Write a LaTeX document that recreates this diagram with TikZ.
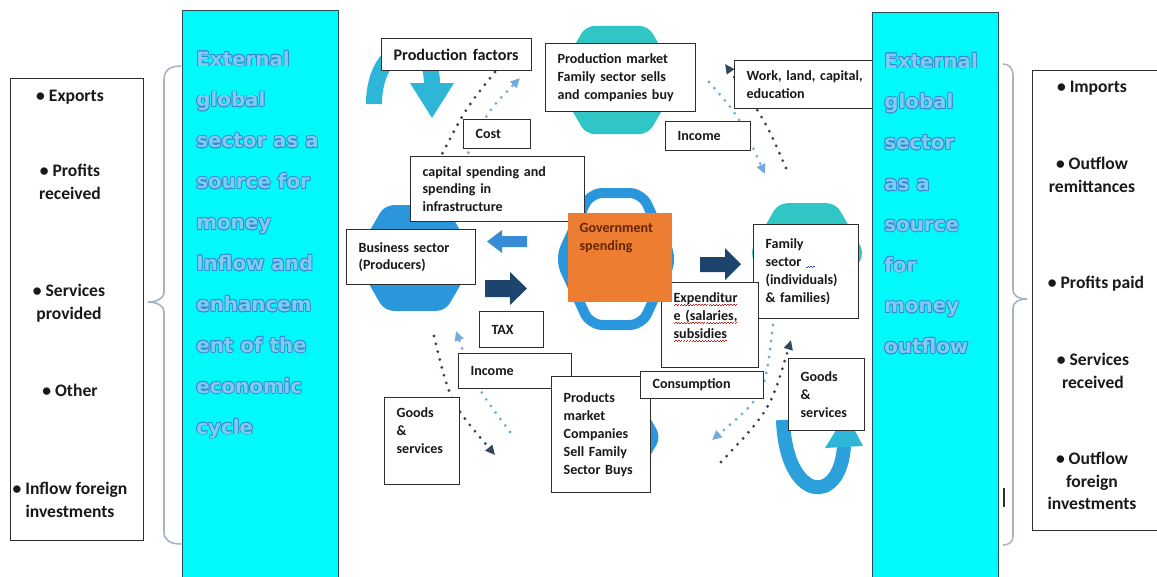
\documentclass[tikz,border=0pt]{standalone}
\usepackage{fontspec}
\setmainfont{Carlito}
\newfontfamily\bigfont{DejaVu Sans}
\usepackage{xcolor}
\usepackage{tikz}
\usetikzlibrary{shapes.geometric,arrows.meta}

\definecolor{panelcyan}{RGB}{0,250,250}
\definecolor{paneledge}{RGB}{35,80,95}
\definecolor{bigfill}{RGB}{125,205,242}
\definecolor{bigedge}{RGB}{55,135,210}
\definecolor{boxline}{RGB}{45,45,45}
\definecolor{boxtext}{RGB}{25,25,25}
\definecolor{hexblue}{RGB}{42,150,220}
\definecolor{hexteal}{RGB}{48,198,198}
\definecolor{govorange}{RGB}{237,125,49}
\definecolor{govtext}{RGB}{100,38,10}
\definecolor{navy}{RGB}{28,68,108}
\definecolor{skyarrow}{RGB}{55,140,215}
\definecolor{ribbon}{RGB}{45,182,215}
\definecolor{dotdark}{RGB}{50,72,92}
\definecolor{dotlight}{RGB}{115,172,220}
\definecolor{bracegray}{RGB}{165,180,195}
\definecolor{spellred}{RGB}{200,30,30}
\definecolor{gramblue}{RGB}{50,70,200}

\newcommand\boxfont{\fontsize{8}{10.2}\selectfont\bfseries\hyphenpenalty=10000\relax}
\newcommand\itemfont{\fontsize{10}{13}\selectfont\bfseries}
\newcommand\panelfont{\bigfont\bfseries\fontsize{11.3}{13}\selectfont}
\newcommand\wavebox[2]{\hbox to #1{\color{#2}\xleaders\hbox to 1.6pt{\vrule width 0.8pt height 0.45pt\raise0.45pt\hbox{\vrule width 0.8pt height 0.45pt}}\hfill}}
\newcommand\spellmark[1]{\leavevmode\setbox0=\hbox{#1}\rlap{\lower2pt\wavebox{\wd0}{spellred}}\box0}
\newcommand\grammark{\lower0.6pt\wavebox{4.8pt}{gramblue}}
\newcommand\edgecopy[3]{\rlap{\kern#1\raise#2\hbox{\textcolor{bigedge}{#3}}}}
\newcommand\outlined[1]{\leavevmode\edgecopy{0.5pt}{0pt}{#1}\edgecopy{-0.5pt}{0pt}{#1}%
  \edgecopy{0pt}{0.5pt}{#1}\edgecopy{0pt}{-0.5pt}{#1}\edgecopy{0.35pt}{0.35pt}{#1}%
  \edgecopy{-0.35pt}{0.35pt}{#1}\edgecopy{0.35pt}{-0.35pt}{#1}\edgecopy{-0.35pt}{-0.35pt}{#1}#1}

\begin{document}
\begin{tikzpicture}[x=0.02cm, y=-0.02cm,
  box/.style 2 args={draw=boxline, fill=white, line width=0.7pt, anchor=north west,
    inner xsep=0.24cm, inner ysep=0.08cm, text width={#1cm-0.48cm},
    minimum height=#2cm, align=left, text=boxtext, font=\boxfont},
  topbox/.style 2 args={box={#1}{0}, text height=9pt, text depth=#2},
  hexa/.style={regular polygon, regular polygon sides=6, minimum size=#1,
    inner sep=0pt, rounded corners=5pt},
  panel/.style={draw=paneledge, fill=panelcyan, line width=0.6pt, anchor=north west,
    minimum width=#1, minimum height=11.5cm, inner sep=0pt},
  paneltxt/.style={anchor=base west, inner sep=0pt, text=bigfill, font=\panelfont},
  listbox/.style 2 args={draw=boxline, fill=white, line width=0.7pt, anchor=north west,
    minimum width=#1, minimum height=#2, inner sep=0pt},
  item/.style={align=center, font=\itemfont, text=boxtext, inner sep=0pt},
  dotd/.style={dotdark, line width=1.8pt, line cap=round, dash pattern=on 0pt off 4.6pt},
  dotl/.style={dotlight, line width=1.8pt, line cap=round, dash pattern=on 0pt off 4.6pt},
  tipd/.style={-{Triangle[length=5.5pt, width=5pt]}},
  brace/.style={draw=bracegray, line width=0.9pt}
]
  \useasboundingbox (0,0) rectangle (1157,576);

  \node[hexa=2.5cm, fill=hexteal] (hexmkt) at (617,80) {};
  \node[hexa=2.44cm, fill=hexblue] (hexbus) at (415,258) {};
  \node[hexa=2.3cm, fill=hexteal] (hexfam) at (807,253) {};
  \node[hexa=2.2cm, fill=hexblue] (hexprod) at (606,437) {};
  \draw[hexblue, line width=0.2cm, rounded corners=0.25cm]
    (590,193) -- (642,193) -- (672,259) -- (642,325) -- (590,325) -- (560,259) -- cycle;

  \fill[skyarrow] (527,236) -- (502,236) -- (502,230) -- (487,241.5) -- (502,253) -- (502,247) -- (527,247) -- cycle;
  \fill[navy] (485,280) -- (510,280) -- (510,272) -- (527,288.5) -- (510,305) -- (510,297) -- (485,297) -- cycle;
  \fill[navy] (700,257) -- (725,257) -- (725,248) -- (741,264) -- (725,280) -- (725,272) -- (700,272) -- cycle;

  \draw[ribbon, line width=0.32cm] (374,104) .. controls (374,40) and (432,30) .. (432,84);
  \fill[ribbon] (410,83) -- (454,83) -- (432,118) -- cycle;
  \draw[hexblue!70!ribbon, line width=0.28cm] (783,420) .. controls (786,502) and (840,507) .. (844,446);
  \fill[ribbon] (825,448) -- (863,446) -- (846,414) -- cycle;

  \coordinate (fdA) at (495,72);  \coordinate (fdB) at (440,158);
  \coordinate (flA) at (465,160); \coordinate (flB) at (520,78);
  \coordinate (wdA) at (786,168); \coordinate (wdB) at (725,64);
  \coordinate (wlA) at (709,82);  \coordinate (wlB) at (765,174);
  \coordinate (gdA) at (434,336); \coordinate (gdB) at (495,455);
  \coordinate (glA) at (510,432); \coordinate (glB) at (456,331);
  \coordinate (rdA) at (721,462); \coordinate (rdB) at (791,340);
  \coordinate (rlA) at (773,325); \coordinate (rlB) at (712,440);
  \draw[dotd] (fdA) .. controls (466,108) .. (fdB);
  \draw[dotl, tipd] (flA) .. controls (487,112) .. (flB);
  \draw[dotd, tipd] (wdA) .. controls (765,120) .. (wdB);
  \draw[dotl, tipd] (wlA) .. controls (738,115) .. (wlB);
  \draw[dotd, tipd] (gdA) .. controls (450,402) .. (gdB);
  \draw[dotl, tipd] (glA) .. controls (475,385) .. (glB);
  \draw[dotd, tipd] (rdA) .. controls (770,410) .. (rdB);
  \draw[dotl, tipd] (rlA) .. controls (765,395) .. (rlB);

  \node[box={3.00}{0.64}, font={\fontsize{9.2}{11}\selectfont\bfseries}] (pf) at (381,38) {Production factors};
  \node[box={3.00}{1.36}] (pm) at (545,43) {Production market\\ Family sector sells\\ and companies buy};
  \node[box={2.82}{0.96}] (work) at (734,60) {Work, land, capital,\\ education};
  \node[box={1.34}{0.58}] (cost) at (463,119) {Cost};
  \node[box={1.70}{0.58}] (inctop) at (665,121) {Income};
  \node[box={3.48}{1.30}] (capsp) at (410,156) {capital spending and\\ spending in\\ infrastructure};
  \node[box={2.58}{1.10}] (bus) at (346,229) {Business sector\\ (Producers)};
  \node[box={2.10}{1.88}] (fam) at (753,224) {Family\\ sector\ \grammark\\ (individuals)\\ \& families)};
  \node[topbox={1.94}{34.7pt}] (expd) at (661,282) {\spellmark{Expenditur}\\ \spellmark{e (salaries,}\\ \spellmark{subsidies}};
  \node[topbox={2.08}{37.5pt}, draw=none, fill=govorange, text=govtext] (gov) at (567,212) {Government\\ spending};
  \node[box={1.28}{0.72}] (tax) at (479,311) {TAX};
  \node[box={2.26}{0.70}] (incbot) at (458,353) {Income};
  \node[box={1.98}{2.32}] (prodmkt) at (551,376) {Products\\ market\\ Companies\\ Sell Family\\ Sector Buys};
  \node[box={2.46}{0.54}] (cons) at (640,371) {Consumption};
  \node[topbox={1.50}{35.8pt}] (goodsl) at (384,397) {Goods\\ \&\\ services};
  \node[box={1.52}{1.44}] (goodsr) at (788,358) {Goods\\ \&\\ services};

  \node[panel=3.12cm] (gin) at (182,10) {};
  \node[panel=2.52cm] (gout) at (872,12) {};
  \foreach \w [count=\i] in {External, global, sector as a, source for, money, Inflow and, enhancem, ent of the, economic, cycle}
    \node[paneltxt] (gin\i) at (196,{66+40.9*(\i-1)}) {\outlined{\w}};
  \foreach \w [count=\i] in {External, global, sector, as a, source, for, money, outflow}
    \node[paneltxt] (gout\i) at (884,{68+40.8*(\i-1)}) {\outlined{\w}};

  \node[listbox={2.66cm}{9.24cm}] (inlist) at (10,78) {};
  \node[item] (exports) at (70,97) {• Exports};
  \node[item] (profrec) at (70,182) {• Profits\\ received};
  \node[item] (servprov) at (69,303) {• Services\\ provided};
  \node[item] (other) at (70,390) {• Other};
  \node[item] (inflowfi) at (70,500) {• Inflow foreign\\ investments};
  \node[listbox={2.70cm}{9.20cm}] (outlist) at (1032,70) {};
  \node[item] (imports) at (1092,88) {• Imports};
  \node[item] (outrem) at (1092,175) {• Outflow\\ remittances};
  \node[item] (profpaid) at (1096,284) {• Profits paid};
  \node[item] (servrec) at (1093,371) {• Services\\ received};
  \node[item] (outfi) at (1092,481) {• Outflow\\ foreign\\ investments};

  \draw[brace] (181,66) .. controls (170,66) and (164,70) .. (164,80) -- (164,292)
    .. controls (164,299) and (156,302) .. (148,302) .. controls (156,302) and (164,305) .. (164,312)
    -- (164,532) .. controls (164,540) and (170,544) .. (181,544);
  \draw[brace] (1003,64) .. controls (1009,64) and (1013,68) .. (1013,76) -- (1013,290)
    .. controls (1013,296) and (1019,299) .. (1027,299) .. controls (1019,299) and (1013,302) .. (1013,308)
    -- (1013,536) .. controls (1013,542) and (1009,545) .. (1003,545);
  \draw[boxline, line width=0.8pt] (1004,488) -- (1004,507);
\end{tikzpicture}
\end{document}
